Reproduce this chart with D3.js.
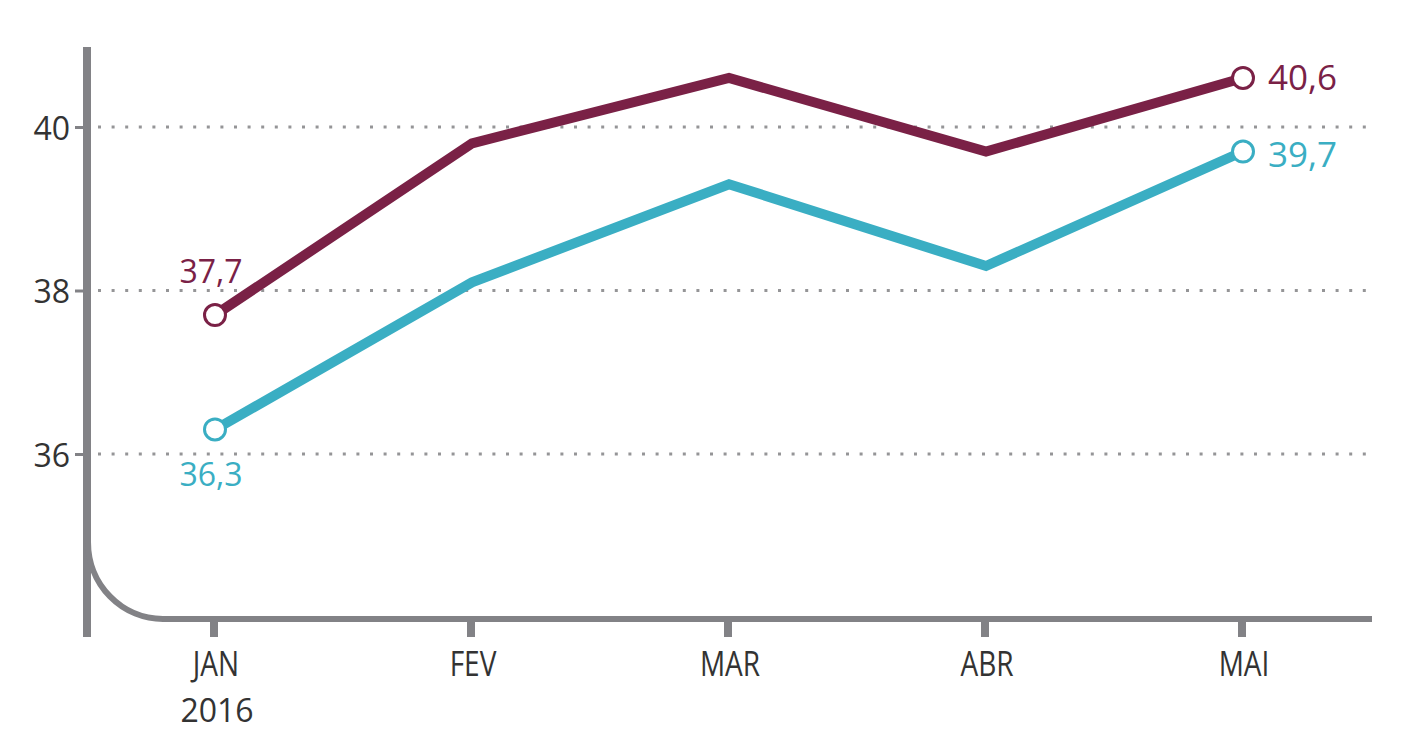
<!DOCTYPE html>
<html>
<head>
<meta charset="utf-8">
<script src="https://cdn.jsdelivr.net/npm/d3@7"></script>
<style>
  html, body { margin: 0; padding: 0; background: #fff; }
  svg { display: block; font-family: "Open Sans", "Noto Sans", sans-serif; }
</style>
</head>
<body>
<svg id="chart" width="1414" height="745"></svg>
<script>
const months = ["JAN", "FEV", "MAR", "ABR", "MAI"];
const yearLabel = "2016";
const seriesMaroon = [37.7, 39.8, 40.6, 39.7, 40.6];
const seriesTeal = [36.3, 38.1, 39.3, 38.3, 39.7];
const yTicks = [36, 38, 40];

const colMaroon = "#7a2146";
const colTeal = "#3aaec3";
const axisCol = "#828286";
const textCol = "#333333";

const svg = d3.select("#chart");
const x = d3.scalePoint().domain(months).range([215, 1243]);
const y = d3.scaleLinear().domain([36, 40]).range([454, 127]);
const fmt = v => d3.format(".1f")(v).replace(".", ",");

// gridlines
const grid = svg.append("g");
grid.selectAll("line").data(yTicks).join("line")
  .attr("x1", 98).attr("x2", 1366)
  .attr("y1", d => y(d)).attr("y2", d => y(d))
  .attr("stroke", "#959597").attr("stroke-width", 3)
  .attr("stroke-dasharray", "3,10.6");

// y axis via d3.axisLeft (ticks), restyled
const yAxis = svg.append("g").attr("transform", "translate(83,0)")
  .call(d3.axisLeft(y).tickValues(yTicks).tickSize(8).tickPadding(5).tickFormat(d3.format("d")));
yAxis.select(".domain").remove();
yAxis.selectAll(".tick line").attr("stroke", axisCol).attr("stroke-width", 3);
yAxis.selectAll(".tick text")
  .attr("fill", textCol).attr("font-size", 32).attr("font-family", "Open Sans")
  .attr("dy", 12);

// vertical axis line
svg.append("line")
  .attr("x1", 87).attr("x2", 87).attr("y1", 47).attr("y2", 637)
  .attr("stroke", axisCol).attr("stroke-width", 8);

// curved corner + horizontal axis
const baseY = 619;
svg.append("path")
  .attr("d", `M88,542 A75,77 0 0 0 163,${baseY} L1372,${baseY}`)
  .attr("fill", "none").attr("stroke", axisCol).attr("stroke-width", 6);

// x ticks
svg.append("g").selectAll("line").data(months).join("line")
  .attr("x1", d => x(d) - 1).attr("x2", d => x(d) - 1)
  .attr("y1", baseY).attr("y2", 637)
  .attr("stroke", axisCol).attr("stroke-width", 8);

// x labels
svg.append("g").selectAll("text").data(months).join("text")
  .attr("transform", d => `translate(${x(d) + 1},676) scale(0.8,1)`)
  .attr("text-anchor", "middle")
  .attr("font-size", 35).attr("fill", textCol)
  .text(d => d);
svg.append("text")
  .attr("x", x(months[0]) + 2).attr("y", 722)
  .attr("text-anchor", "middle").attr("font-size", 32).attr("fill", textCol)
  .text(yearLabel);

// lines
const line = d3.line().x((d, i) => x(months[i])).y(d => y(d));
[[seriesMaroon, colMaroon], [seriesTeal, colTeal]].forEach(([s, c]) => {
  svg.append("path").datum(s)
    .attr("d", line).attr("fill", "none")
    .attr("stroke", c).attr("stroke-width", 10)
    .attr("stroke-linejoin", "miter");
});

// end circles
[[seriesMaroon, colMaroon], [seriesTeal, colTeal]].forEach(([s, c]) => {
  const idx = [0, s.length - 1];
  svg.append("g").selectAll("circle").data(idx).join("circle")
    .attr("cx", i => x(months[i])).attr("cy", i => y(s[i]))
    .attr("r", 10.5).attr("fill", "#fff")
    .attr("stroke", c).attr("stroke-width", 3);
});

// value labels
const last = months.length - 1;
svg.append("text")
  .attr("x", x(months[0]) - 4).attr("y", y(seriesMaroon[0]) - 32)
  .attr("text-anchor", "middle").attr("font-size", 32).attr("fill", colMaroon)
  .text(fmt(seriesMaroon[0]));
svg.append("text")
  .attr("x", x(months[0]) - 4).attr("y", y(seriesTeal[0]) + 57)
  .attr("text-anchor", "middle").attr("font-size", 32).attr("fill", colTeal)
  .text(fmt(seriesTeal[0]));
svg.append("text")
  .attr("x", x(months[last]) + 25).attr("y", y(seriesMaroon[last]) + 12)
  .attr("font-size", 35).attr("fill", colMaroon)
  .text(fmt(seriesMaroon[last]));
svg.append("text")
  .attr("x", x(months[last]) + 25).attr("y", y(seriesTeal[last]) + 15)
  .attr("font-size", 35).attr("fill", colTeal)
  .text(fmt(seriesTeal[last]));
</script>
</body>
</html>
